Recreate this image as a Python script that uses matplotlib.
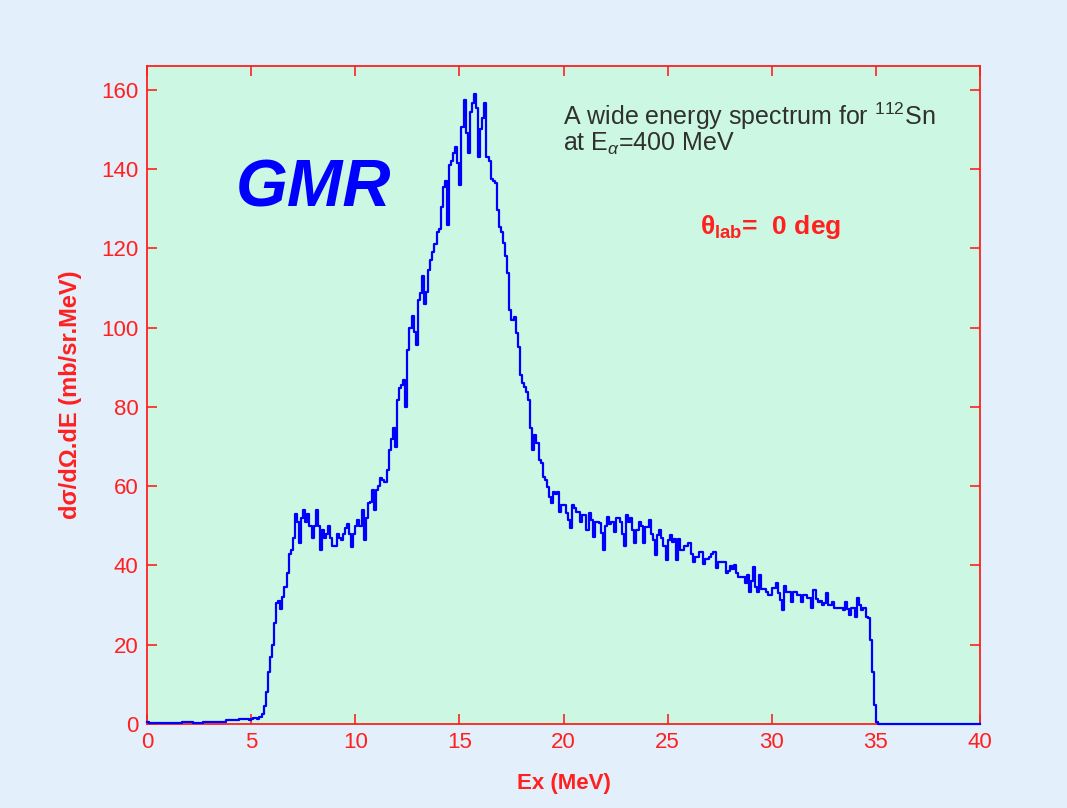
import numpy as np
import matplotlib
matplotlib.use("Agg")
import matplotlib.pyplot as plt

plt.rcParams['font.family'] = ['Liberation Sans', 'DejaVu Sans']
plt.rcParams['mathtext.fontset'] = 'custom'
plt.rcParams['mathtext.rm'] = 'Liberation Sans'
plt.rcParams['mathtext.it'] = 'Liberation Sans:italic'
plt.rcParams['mathtext.bf'] = 'Liberation Sans:bold'

# Spectrum: bin width 0.1 MeV, starting at 0 MeV (values in mb/sr.MeV)
bin_width = 0.1
counts = [
    0.5, 0.3, 0.3, 0.3, 0.3, 0.3, 0.3, 0.3, 0.3, 0.3,
    0.3, 0.3, 0.3, 0.3, 0.3, 0.3, 0.3, 0.6, 0.6, 0.4,
    0.4, 0.4, 0.3, 0.3, 0.3, 0.3, 0.3, 0.6, 0.6, 0.6,
    0.6, 0.4, 0.4, 0.5, 0.6, 0.6, 0.6, 0.6, 0.9, 0.9,
    0.9, 0.9, 1.0, 1.0, 1.2, 1.2, 1.2, 1.3, 1.3, 1.0,
    1.3, 1.5, 1.5, 1.2, 1.8, 2.5, 4.5, 8.0, 13.0, 17.0,
    20.0, 25.5, 30.5, 31.0, 29.0, 32.0, 34.6, 38.0, 43.0, 44.0,
    47.0, 53.0, 51.0, 45.7, 52.0, 54.0, 51.0, 53.0, 50.0, 47.0,
    50.0, 54.0, 50.0, 44.0, 49.0, 47.0, 48.0, 50.0, 47.0, 45.0,
    45.0, 48.0, 47.0, 46.5, 48.0, 49.5, 50.5, 48.0, 44.7, 48.0,
    50.0, 51.5, 50.0, 54.0, 46.4, 52.0, 55.7, 56.0, 59.0, 54.0,
    59.0, 60.0, 62.0, 61.5, 61.0, 64.0, 69.0, 72.0, 74.7, 70.0,
    81.8, 84.8, 85.5, 86.8, 80.0, 94.4, 100.0, 103.0, 99.0, 95.6,
    107.0, 108.8, 113.0, 106.0, 109.0, 114.6, 117.0, 119.0, 121.0, 124.0,
    125.0, 130.5, 135.5, 137.0, 126.0, 141.0, 142.0, 144.0, 145.6, 141.5,
    136.0, 150.7, 157.5, 149.0, 144.0, 154.4, 156.7, 159.0, 155.4, 143.0,
    150.0, 153.0, 156.7, 143.0, 142.0, 137.5, 137.0, 136.5, 129.7, 125.4,
    124.0, 121.4, 118.0, 113.8, 104.5, 102.0, 102.7, 98.7, 95.0, 88.0,
    86.0, 85.0, 83.8, 81.8, 74.7, 69.0, 73.0, 71.0, 66.6, 65.8,
    62.3, 61.5, 59.8, 57.3, 55.7, 58.5, 58.0, 58.5, 53.5, 55.3,
    55.3, 53.2, 51.5, 49.4, 55.3, 54.5, 53.5, 53.5, 51.0, 52.6,
    52.6, 49.0, 53.2, 51.5, 47.2, 51.0, 51.0, 50.7, 48.2, 44.0,
    50.0, 52.2, 50.5, 51.0, 48.5, 52.0, 52.0, 51.0, 48.0, 45.0,
    52.7, 51.0, 52.0, 49.0, 45.6, 49.0, 51.0, 50.0, 45.6, 49.6,
    49.6, 51.5, 48.0, 46.4, 42.6, 47.6, 49.0, 47.0, 45.0, 41.4,
    46.4, 47.7, 46.0, 46.6, 41.4, 46.6, 44.0, 44.0, 45.0, 45.0,
    45.6, 43.0, 40.9, 42.0, 42.0, 43.4, 43.4, 40.4, 41.6, 41.6,
    42.0, 43.0, 43.4, 39.4, 40.9, 40.9, 40.9, 40.9, 38.0, 38.5,
    39.8, 39.0, 40.2, 38.0, 37.0, 37.0, 37.0, 35.6, 37.5, 33.3,
    36.0, 39.6, 34.5, 33.3, 37.6, 34.0, 34.0, 33.3, 32.5, 32.5,
    34.3, 34.3, 35.6, 33.0, 31.3, 28.8, 34.9, 33.3, 33.3, 30.8,
    33.3, 33.3, 32.5, 32.5, 30.8, 32.5, 32.5, 31.7, 31.7, 29.3,
    33.8, 31.5, 30.8, 31.0, 30.0, 30.4, 33.0, 30.0, 30.0, 30.8,
    29.3, 29.3, 29.3, 29.3, 28.8, 30.8, 29.0, 27.6, 29.3, 29.3,
    27.0, 31.8, 30.0, 28.8, 29.3, 27.0, 26.8, 21.2, 13.0, 4.8,
    0.5, 0.0, 0.0,
]
x_end = 40.0

xticks = [0, 5, 10, 15, 20, 25, 30, 35, 40]
yticks = [0, 20, 40, 60, 80, 100, 120, 140, 160]

RED = '#ff2020'
BLUE = '#0000ff'

fig = plt.figure(figsize=(10.67, 8.08), dpi=100, facecolor='#e3effa')
ax = fig.add_axes([0.1378, 0.104, 0.7807, 0.8143])
ax.set_facecolor('#ccf8e3')

counts_arr = np.array(counts)
n_tail = int(round((x_end - len(counts_arr) * bin_width) / bin_width))
y = np.concatenate([counts_arr, np.zeros(n_tail + 1)])
x = np.arange(len(y)) * bin_width
ax.plot(x, y, color=BLUE, lw=1.6, drawstyle='steps-post', clip_on=False, zorder=5)

ax.set_xlim(0, 40)
ax.set_ylim(0, 166)
ax.set_xticks(xticks)
ax.set_yticks(yticks)

for s in ax.spines.values():
    s.set_color(RED)
    s.set_linewidth(1.3)

ax.tick_params(axis='both', which='both', direction='in', length=7, width=1.2,
               colors=RED, labelsize=16, top=True, right=True, pad=6)
for lab in ax.get_xticklabels() + ax.get_yticklabels():
    lab.set_color(RED)

ax.set_xlabel('Ex (MeV)', color=RED, fontsize=16, fontweight='bold', labelpad=14)
ax.set_ylabel('dσ/dΩ.dE (mb/sr.MeV)', color=RED, fontsize=17, fontweight='bold', labelpad=14)

ax.text(4.25, 130.5, 'GMR', color=BLUE, fontsize=48, fontweight='bold',
        fontstyle='italic', ha='left', va='baseline')

ax.text(0.4994, 0.948, 'A wide energy spectrum for $^{112}$Sn\nat E$_{\\alpha}$=400 MeV',
        transform=ax.transAxes, color='#303030', fontsize=18, ha='left', va='top',
        linespacing=0.95)

ax.text(0.664, 0.745, r'$\mathbf{\theta_{lab}}$=  0 deg', transform=ax.transAxes,
        color=RED, fontsize=19, fontweight='bold', ha='left', va='baseline')

fig.savefig('out.png', dpi=100, facecolor=fig.get_facecolor())
